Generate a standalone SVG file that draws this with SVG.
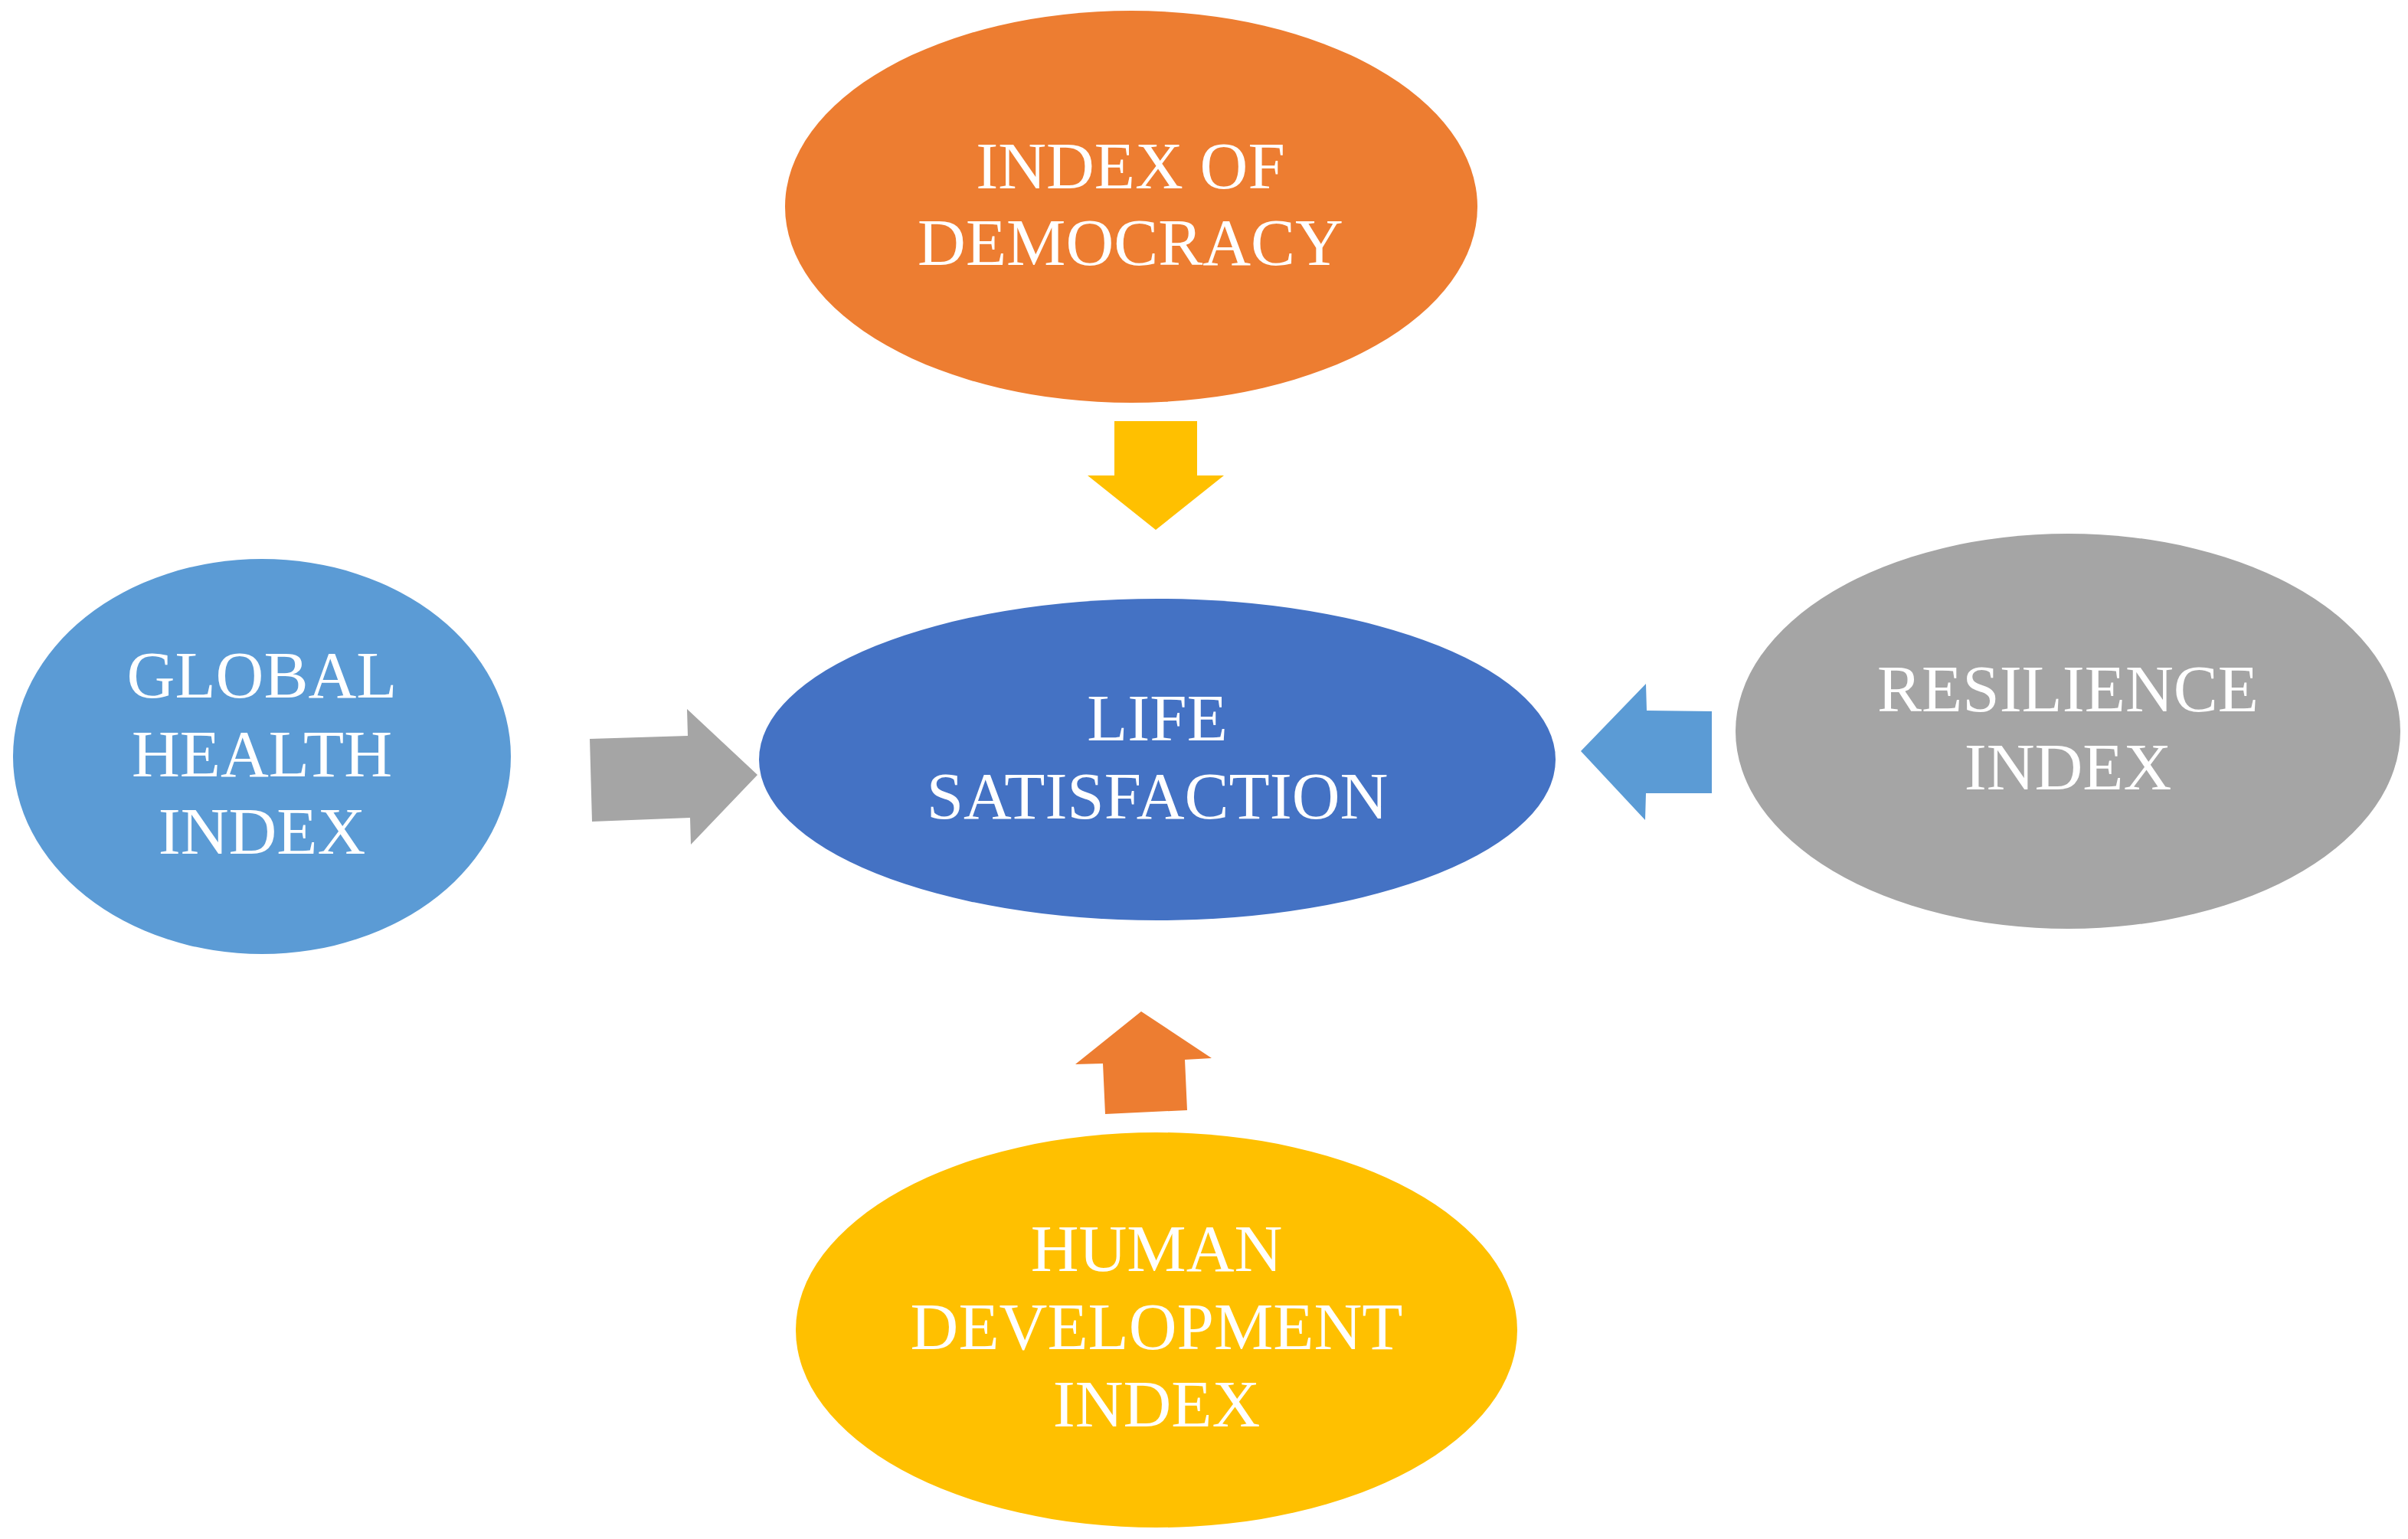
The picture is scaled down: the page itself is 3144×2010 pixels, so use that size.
<svg xmlns="http://www.w3.org/2000/svg" width="3144" height="2010" viewBox="0 0 3144 2010">
<style>
.lbl{font-family:"Liberation Serif","Times New Roman",serif;font-size:87px;fill:#ffffff;text-anchor:middle}
</style>
<rect width="3144" height="2010" fill="#ffffff"/>
<g id="connectors">
<polygon id="arrow-top" points="1455,550 1563,550 1563,621 1598,621 1509,692 1420,621 1455,621" fill="#FFC000"/>
<polygon id="arrow-left" points="770,965 898,961 897,926 989,1012 902,1103 901,1068 773,1073" fill="#A5A5A5"/>
<polygon id="arrow-right" points="2235,929 2150,928 2149,893 2064,981 2148,1071 2149,1036 2235,1036" fill="#5B9BD5"/>
<polygon id="arrow-bottom" points="1443,1455 1550,1450 1547,1384 1582,1382 1490,1321 1404,1390 1440,1389" fill="#ED7D31"/>
</g>
<g id="node-democracy">
<ellipse cx="1477" cy="270" rx="452" ry="256" fill="#ED7D31"/>
<text class="lbl" x="1476" y="246">INDEX OF</text>
<text class="lbl" x="1476" y="346">DEMOCRACY</text>
</g>
<g id="node-life">
<ellipse cx="1511" cy="992" rx="520" ry="210" fill="#4472C4"/>
<text class="lbl" x="1511" y="967">LIFE</text>
<text class="lbl" x="1511" y="1069">SATISFACTION</text>
</g>
<g id="node-health">
<ellipse cx="342" cy="988" rx="325" ry="258" fill="#5B9BD5"/>
<text class="lbl" x="342" y="911">GLOBAL</text>
<text class="lbl" x="342" y="1014">HEALTH</text>
<text class="lbl" x="342" y="1115">INDEX</text>
</g>
<g id="node-resilience">
<ellipse cx="2700" cy="955" rx="434" ry="258" fill="#A5A5A5"/>
<text class="lbl" x="2700" y="929">RESILIENCE</text>
<text class="lbl" x="2700" y="1031">INDEX</text>
</g>
<g id="node-hdi">
<ellipse cx="1510" cy="1737" rx="471" ry="258" fill="#FFC000"/>
<text class="lbl" x="1510" y="1660">HUMAN</text>
<text class="lbl" x="1510" y="1762">DEVELOPMENT</text>
<text class="lbl" x="1510" y="1863">INDEX</text>
</g>
</svg>
